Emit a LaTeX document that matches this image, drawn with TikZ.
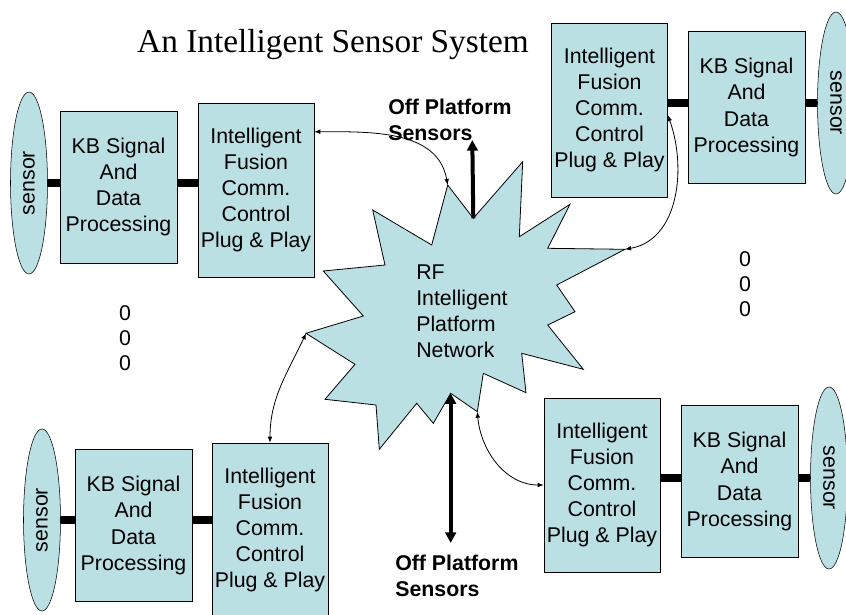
\documentclass[tikz,border=0pt]{standalone}
\usepackage{fontspec}
\setmainfont{Liberation Sans}
\newfontfamily\titlefont{Liberation Serif}
\usetikzlibrary{shapes.geometric,arrows.meta}
\definecolor{boxfill}{RGB}{187,224,228}

\begin{document}
\begin{tikzpicture}[x=0.75pt,y=-0.75pt,
>={Latex[length=4.5pt,width=3.5pt]},
kb/.style={draw,fill=boxfill,inner sep=0pt,align=center,minimum width=87.75pt,minimum height=114pt,font=\fontsize{16}{19.6}\selectfont},
ctl/.style={draw,fill=boxfill,inner sep=0pt,align=center,minimum width=87pt,minimum height=130.5pt,font=\fontsize{16}{19.6}\selectfont},
sensor/.style={draw,ellipse,fill=boxfill,inner sep=0pt,minimum width=136.5pt,minimum height=27.75pt,font=\fontsize{16}{19}\selectfont},
bus/.style={line width=5.5pt},
link/.style={<->,line width=0.6pt},
bigarrow/.style={line width=3pt,-{Triangle[length=8pt,width=8pt]}},
bigboth/.style={line width=3pt,{Triangle[length=8pt,width=8pt]}-{Triangle[length=8pt,width=8pt]}}]

\useasboundingbox (0,0) rectangle (846,614);

\node[font=\titlefont\fontsize{25}{30}\selectfont] (title) at (333,45) {An Intelligent Sensor System};

% the network in the middle
\coordinate (t1) at (447.7,185);  \coordinate (v1) at (473.3,218.3);
\coordinate (t2) at (522.7,161.7); \coordinate (v2) at (519.3,236.7);
\coordinate (t3) at (570,204.3);  \coordinate (v3) at (547.7,248.3);
\coordinate (t4) at (625,249.3);  \coordinate (v4) at (556.7,285);
\coordinate (t5) at (575,311.7);  \coordinate (v5) at (547.7,325);
\coordinate (t6) at (583.3,369.3); \coordinate (v6) at (521.7,353.3);
\coordinate (t7) at (526,392.7);  \coordinate (v7) at (483.3,373.3);
\coordinate (t8) at (477.3,411.7); \coordinate (v8) at (450.7,393.3);
\coordinate (t9) at (433.3,423.3); \coordinate (v9) at (416.7,403.3);
\coordinate (t10) at (379.3,449.3); \coordinate (v10) at (376,405);
\coordinate (t11) at (325,399.3); \coordinate (v11) at (355,364.3);
\coordinate (t12) at (306,333.3); \coordinate (v12) at (363.3,316);
\coordinate (t13) at (323.3,271); \coordinate (v13) at (385,265);
\coordinate (t14) at (372.7,210); \coordinate (v14) at (431.7,245);
\draw[fill=boxfill,line width=0.6pt] (t1) -- (v1) -- (t2) -- (v2) -- (t3) -- (v3) -- (t4) -- (v4)
  -- (t5) -- (v5) -- (t6) -- (v6) -- (t7) -- (v7) -- (t8) -- (v8) -- (t9) -- (v9)
  -- (t10) -- (v10) -- (t11) -- (v11) -- (t12) -- (v12) -- (t13) -- (v13) -- (t14) -- (v14) -- cycle;
\node[anchor=west,align=left,inner sep=0pt,font=\fontsize{16}{19.6}\selectfont] (net) at (416,311.5) {RF\\Intelligent\\Platform\\Network};

% top left
\node[sensor,rotate=90] (sTL) at (29,183) {sensor};
\node[kb] (kbTL) at (118.5,187) {KB Signal\\And\\Data\\Processing};
\node[ctl] (inTL) at (256,190) {Intelligent\\Fusion\\Comm.\\Control\\Plug \& Play};
\draw[bus] (sTL.south) -- (kbTL.west |- sTL);
\draw[bus] (kbTL.east |- sTL) -- (inTL.west |- sTL);

% top right
\node[ctl] (inTR) at (609.5,110) {Intelligent\\Fusion\\Comm.\\Control\\Plug \& Play};
\node[kb] (kbTR) at (746.5,107.5) {KB Signal\\And\\Data\\Processing};
\node[sensor,rotate=-90] (sTR) at (836,103) {sensor};
\draw[bus] (inTR.east |- sTR) -- (kbTR.west |- sTR);
\draw[bus] (kbTR.east |- sTR) -- (sTR.south);

% bottom left
\node[sensor,rotate=90] (sBL) at (42,520) {sensor};
\node[kb] (kbBL) at (133.5,525.5) {KB Signal\\And\\Data\\Processing};
\node[ctl] (inBL) at (270,530) {Intelligent\\Fusion\\Comm.\\Control\\Plug \& Play};
\draw[bus] (sBL.south) -- (kbBL.west |- sBL);
\draw[bus] (kbBL.east |- sBL) -- (inBL.west |- sBL);

% bottom right
\node[ctl] (inBR) at (602,485) {Intelligent\\Fusion\\Comm.\\Control\\Plug \& Play};
\node[kb] (kbBR) at (739.5,481.5) {KB Signal\\And\\Data\\Processing};
\node[sensor,rotate=-90] (sBR) at (829,478) {sensor};
\draw[bus] (inBR.east |- sBR) -- (kbBR.west |- sBR);
\draw[bus] (kbBR.east |- sBR) -- (sBR.south);

% links to the network
\draw[link] (inTL.45) to[out=0,in=100] (t1);
\draw[link] (inTR.-5) to[out=-70,in=10] (t4);
\draw[link] (inBL.north) to[out=90,in=245] (t12);
\draw[link] (t8) to[out=-85,in=180] (inBR.west);

% off platform
\node[anchor=west,align=left,inner sep=0pt,font=\bfseries\fontsize{16}{19.5}\selectfont] (offT) at (388,120) {Off Platform\\Sensors};
\node[anchor=west,align=left,inner sep=0pt,font=\bfseries\fontsize{16}{19.5}\selectfont] (offB) at (395,575.5) {Off Platform\\Sensors};
\coordinate (upT) at (472.3,140);
\coordinate (downB) at (450.7,543);
\draw[bigarrow] (v1) -- (upT);
\draw[bigboth] (v8) -- (downB);

% more of them
\node[align=center,font=\fontsize{16}{18.75}\selectfont] (dotsL) at (125,338) {0\\0\\0};
\node[align=center,font=\fontsize{16}{18.75}\selectfont] (dotsR) at (745,284) {0\\0\\0};

\end{tikzpicture}
\end{document}
